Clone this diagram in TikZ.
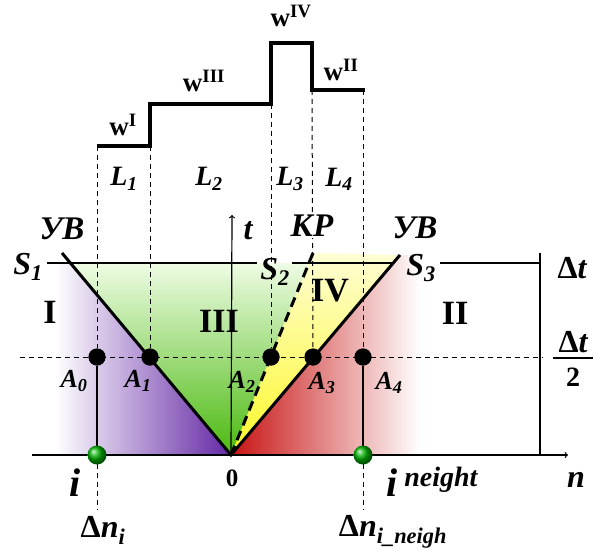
\documentclass[tikz,border=0pt]{standalone}
\usepackage{fontspec}
\setmainfont{Liberation Serif}

\definecolor{vio}{RGB}{100,40,165}
\definecolor{grn}{RGB}{75,185,15}
\definecolor{lgrn}{RGB}{238,252,228}
\definecolor{yel}{RGB}{252,248,40}
\definecolor{rd}{RGB}{200,20,20}

\begin{document}
\begin{tikzpicture}[
    x=1pt, y=-1pt,
    thinline/.style={line width=1.2pt},
    thickline/.style={line width=3pt},
    guide/.style={line width=1pt, dash pattern=on 5pt off 4pt},
    kpline/.style={line width=3pt, dash pattern=on 10pt off 6pt},
    dot/.style={circle, fill=black, inner sep=0pt, minimum size=17pt},
    ball/.style={circle, ball color=green!70!black, inner sep=0pt, minimum size=19pt},
    cyr/.style={font=\fontsize{33}{35}\selectfont\bfseries\itshape},
    slab/.style={font=\fontsize{32}{34}\selectfont\bfseries\itshape},
    llab/.style={font=\fontsize{28}{30}\selectfont\bfseries\itshape},
    alab/.style={font=\fontsize{26}{28}\selectfont\bfseries\itshape},
    wlab/.style={font=\fontsize{27}{29}\selectfont\bfseries},
    zone/.style={font=\fontsize{34}{36}\selectfont\bfseries},
    axlab/.style={font=\fontsize{32}{34}\selectfont\bfseries\itshape}
]
\useasboundingbox (0,0) rectangle (593,556);

% Key points
\coordinate (O) at (231,455);
\coordinate (uvl) at (62,253);
\coordinate (uvr) at (400,255);
\coordinate (kp) at (313,253);

% Fills
\shade[left color=white, right color=vio] (55,263) -- (70,263) -- (O) -- (55,455) -- cycle;
\shade[top color=lgrn, bottom color=grn] (70,263) -- (393,263) -- (O) -- cycle;
\shade[top color=yel!20!white, bottom color=yel] (kp) -- (uvr) -- (O) -- cycle;
\shade[left color=rd, right color=white] (uvr) -- (420,255) -- (420,455) -- (O) -- cycle;

% Step profile
\coordinate (st0) at (97,146);
\coordinate (st1) at (150,146);
\coordinate (st2) at (271,104);
\coordinate (st3) at (312,90);
\coordinate (st4) at (363,90);
\draw[line width=3.5pt] (st0) -- (st1) -- (150,104) -- (st2) -- (271,43) -- (312,43) -- (st3) -- (365,90);

% Dots and balls
\node[dot] (A0) at (97,357) {};
\node[dot] (A1) at (150,357) {};
\node[dot] (A2) at (271,357) {};
\node[dot] (A3) at (313,357) {};
\node[dot] (A4) at (363,357) {};

% Axes
\coordinate (axl) at (32,455);
\coordinate (axr) at (568,455);
\coordinate (tt) at (232,215);
\draw[thinline, ->] (axl) -- (axr);
\draw[thinline, ->] (O) -- (tt);

% Time levels
\draw[thinline] (47,263) -- (257,263);
\draw[thinline] (292,263) -- (393,263);
\draw[thinline] (440,263) -- (540,263);
\draw[thinline] (540,253) -- (540,455);
\draw[guide] (20,357) -- (543,357);

% Verticals
\coordinate (dni) at (97,510);
\coordinate (dnj) at (363,510);
\draw[guide] (st0) -- (A0);
\draw[guide] (st1) -- (A1);
\draw[guide] (st2) -- (A2);
\draw[guide] (st3) -- (A3);
\draw[guide] (st4) -- (A4);
\draw[thinline] (A0) -- (97,455);
\draw[thinline] (A4) -- (363,455);
\draw[guide] (97,455) -- (dni);
\draw[guide] (363,455) -- (dnj);

% Waves
\draw[thickline] (uvl) -- (O) -- (uvr);
\draw[kpline] (O) -- (kp);

\node[dot] at (A0) {};
\node[dot] at (A1) {};
\node[dot] at (A2) {};
\node[dot] at (A3) {};
\node[dot] at (A4) {};
\node[ball] (gi) at (97,455) {};
\node[ball] (gj) at (363,455) {};

% Step labels
\node[wlab] (w1) at (123,125) {w\textsuperscript{I}};
\node[wlab] (w3) at (204,81) {w\textsuperscript{III}};
\node[wlab] (w4) at (291,16) {w\textsuperscript{IV}};
\node[wlab] (w2) at (341,70) {w\textsuperscript{II}};
\node[llab] (L1) at (124,179) {L\textsubscript{1}};
\node[llab] (L2) at (209,179) {L\textsubscript{2}};
\node[llab] (L3) at (290,179) {L\textsubscript{3}};
\node[llab] (L4) at (339,179) {L\textsubscript{4}};

% Wave labels
\node[cyr] (uv1) at (62,229) {УВ};
\node[cyr, fill=white, inner sep=1pt] (kpl) at (312,226) {КР};
\node[cyr] (uv2) at (415,228) {УВ};
\node[slab] (S1) at (28,267) {S\textsubscript{1}};
\node[slab] (S2) at (275,272) {S\textsubscript{2}};
\node[slab] (S3) at (421,268) {S\textsubscript{3}};
\node[axlab] (t) at (248,231) {t};

% Zones
\node[zone] (z1) at (50,312) {I};
\node[zone] (z3) at (219,321) {III};
\node[zone] (z4) at (330,291) {IV};
\node[zone] (z2) at (455,313) {II};

% Points
\node[alab] (lA0) at (74,381) {A\textsubscript{0}};
\node[alab] (lA1) at (138,381) {A\textsubscript{1}};
\node[alab] (lA2) at (242,382) {A\textsubscript{2}};
\node[alab] (lA3) at (322,383) {A\textsubscript{3}};
\node[alab] (lA4) at (389,383) {A\textsubscript{4}};

% Right scale
\node[axlab] (dt) at (572,268) {{\upshape Δ}t};
\node[axlab] (dth) at (573,342) {{\upshape Δ}t};
\draw[line width=1.6pt] (553,358) -- (593,358);
\node[font=\fontsize{28}{30}\selectfont\bfseries] (two) at (573,377) {2};

% Axis labels
\node[font=\fontsize{25}{27}\selectfont\bfseries] (zero) at (232,478) {0};
\node[axlab, anchor=base] (n) at (576,487) {n};
\node[font=\fontsize{40}{44}\selectfont\bfseries\itshape, anchor=base] (i) at (75,496) {i};
\node[font=\fontsize{40}{44}\selectfont\bfseries\itshape, anchor=base west] (ineigh) at (383,496) {i\,\textsuperscript{neight}};
\node[axlab] (dni) at (103,530) {{\upshape Δ}n\textsubscript{i}};
\node[axlab] (dnj) at (393,532) {{\upshape Δ}n\textsubscript{i\_neigh}};

\end{tikzpicture}
\end{document}
